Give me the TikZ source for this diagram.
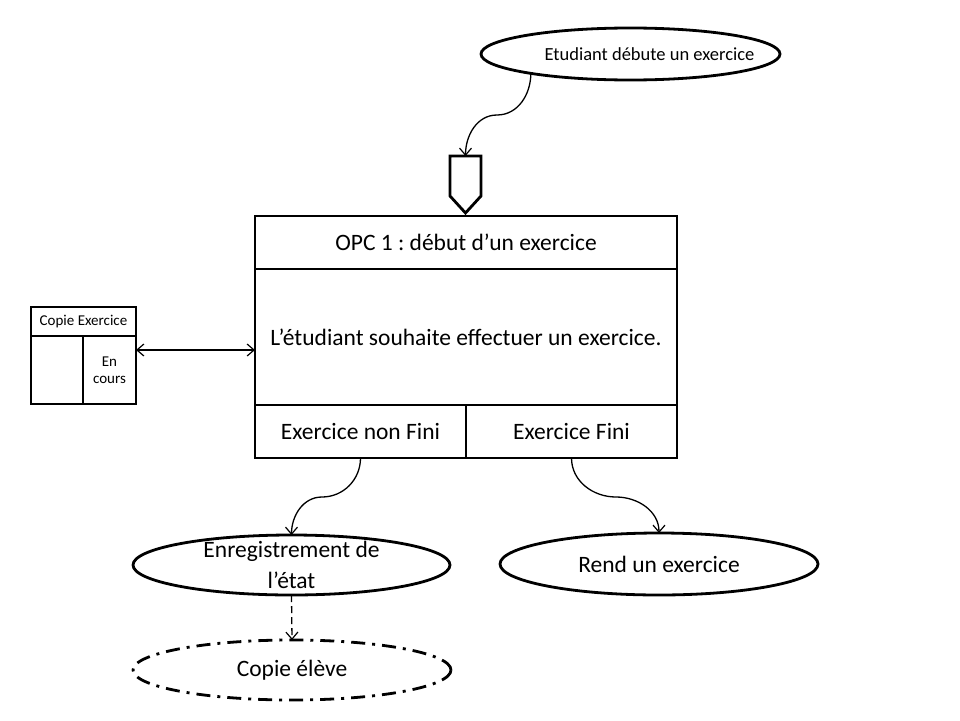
\documentclass[tikz,border=0pt]{standalone}
\usepackage{fontspec}
\setmainfont{Carlito}
\frenchspacing
\usetikzlibrary{shapes.geometric,arrows.meta,calc}
\begin{document}
\begin{tikzpicture}
[x=1pt,y=-1pt,
  boxLine/.style={draw,line width=2.8pt,inner sep=0pt,outer sep=0pt},%
  cellDecorate/.style={boxLine,shape=rectangle,align=center},%
  bubble/.style={boxLine,shape=ellipse,align=center},%
  barb/.tip={Straight Barb[length=7pt,width=12pt,line width=1.2pt]},%
  linkLine/.style={-barb,line width=1.3pt},%
  bigText/.style={font=\fontsize{23.5}{31}\selectfont},%
  smallText/.style={font=\fontsize{15}{16.5}\selectfont}]
\useasboundingbox (0,0) rectangle (960,720);
%% main operation box
\node (title) at (466,242.5) [cellDecorate,bigText,minimum width=422pt,minimum height=53pt] {OPC 1 : début d’un exercice};
\node (body) at (466,337) [cellDecorate,bigText,minimum width=422pt,minimum height=136pt] {L’étudiant souhaite effectuer un exercice.};
\node (nonfini) at (360.5,431.5) [cellDecorate,bigText,minimum width=211pt,minimum height=53pt] {Exercice non Fini};
\node (fini) at (571.5,431.5) [cellDecorate,bigText,minimum width=211pt,minimum height=53pt] {Exercice Fini};
%% entry arrow shape
\coordinate (entry) at (465.5,156);
\draw[boxLine,line join=miter] (450,156) -- (481,156) -- (481,196) -- (465.5,213) -- (450,196) -- cycle;
%% data object
\node (copie) at (83.5,321.5) [cellDecorate,smallText,minimum width=105pt,minimum height=29pt] {Copie Exercice};
\node (vide) at (57,370) [cellDecorate,minimum width=52pt,minimum height=68pt] {};
\node (cours) at (109.5,370) [cellDecorate,smallText,minimum width=53pt,minimum height=68pt] {En\\cours};
%% events
\node (debut) at (630.5,54) [bubble,font=\fontsize{18.5}{22}\selectfont,minimum width=299pt,minimum height=52pt] {\makebox[0pt]{\hspace*{38pt}Etudiant débute un exercice}};
\node (enreg) at (291.5,565) [bubble,bigText,inner ysep=-12pt,minimum width=317pt,minimum height=60pt] {Enregistrement de\\l’état};
\node (rend) at (659,564) [bubble,bigText,inner ysep=-6pt,minimum width=318pt,minimum height=62pt] {Rend un exercice};
\node (eleve) at (292,670) [bubble,bigText,inner ysep=-6pt,dash pattern=on 14pt off 7pt on 3pt off 7pt,minimum width=318pt,minimum height=60pt] {Copie élève};
%% connectors
\draw[linkLine] (debut.191) to[out=-90,in=0] (497,115) to[out=180,in=90] (entry);
\draw[linkLine] (nonfini.south) to[out=-90,in=0] (322,497) to[out=180,in=90] (enreg.north);
\draw[linkLine] (fini.south) to[out=-90,in=180] (616,497) to[out=0,in=90] (rend.north);
\draw[linkLine,dash pattern=on 7pt off 4pt] (enreg.south) -- (eleve.north);
\coordinate (lnk) at ($(cours.north east)+(0,14)$);
\draw[linkLine,barb-barb] (lnk) -- (lnk -| body.west);
\end{tikzpicture}
\end{document}
